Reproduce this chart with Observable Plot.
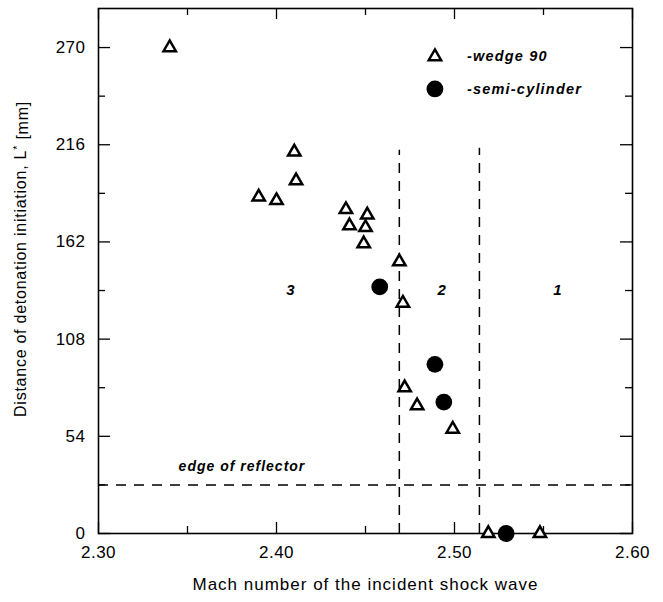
<!DOCTYPE html>
<html><head><meta charset="utf-8">
<script src="https://cdn.jsdelivr.net/npm/d3@7"></script>
<script src="https://cdn.jsdelivr.net/npm/@observablehq/plot@0.6"></script>
<style>
body{margin:0;background:#fff}
svg text{letter-spacing:0.5px}
</style>
</head><body><div id="chart"></div>
<script>
// Data
const wedgeMach = [2.340, 2.410, 2.411, 2.390, 2.400, 2.439, 2.451, 2.441, 2.450, 2.449, 2.469, 2.471, 2.472, 2.479, 2.499, 2.519, 2.548];
const wedgeL    = [270,   212,   196,   187,   185,   180,   177,   171,   170,   161,   151,   128,   81,    71,    58,    0,     0];
const cylMach = [2.458, 2.489, 2.494, 2.529];
const cylL    = [137,   94,    73,    0];

const xMajor = [2.30, 2.40, 2.50, 2.60];
const xMinor = [2.35, 2.45, 2.55];
const yMajor = [0, 54, 108, 162, 216, 270];
const yMinor = [27, 81, 135, 189, 243];

const regionMach = [2.408, 2.493, 2.558];
const regionL = [135, 135, 135];
const regionNames = ["3", "2", "1"];

const boundaryMach = [2.469, 2.514];
const boundaryTop = [213, 214];
const reflectorL = 27;

const legendNames = ["-wedge 90", "-semi-cylinder"];
const legendMarkX = 2.489;
const legendTextX = 2.507;
const legendY = [265, 247];

const annotation = {text: "edge of reflector", x: 2.345, y: 37};

const W = 663, H = 602, mL = 98, mR = 31, mT = 8, mB = 69;
const innerW = W - mL - mR, innerH = H - mT - mB;

const wedge = wedgeMach.map((m, i) => ({m, L: wedgeL[i]}));
const cyl = cylMach.map((m, i) => ({m, L: cylL[i]}));
const bounds = boundaryMach.map((m, i) => ({m, top: boundaryTop[i]}));
const regions = regionMach.map((m, i) => ({m, L: regionL[i], t: regionNames[i]}));

const chart = Plot.plot({
  width: W, height: H,
  marginLeft: mL, marginRight: mR, marginTop: mT, marginBottom: mB,
  style: {fontFamily: "'Liberation Sans', Arial, sans-serif", fontSize: "17px", color: "black", background: "white"},
  x: {domain: [2.30, 2.60]},
  y: {domain: [0, 291.7]},
  marks: [
    // inward ticks
    Plot.ruleX(xMajor, {x: d => d, insetTop: innerH - 11, strokeWidth: 1.3}),
    Plot.ruleX(xMinor, {x: d => d, insetTop: innerH - 7, strokeWidth: 1.3}),
    Plot.ruleX(xMajor, {x: d => d, insetBottom: innerH - 11, strokeWidth: 1.3}),
    Plot.ruleX(xMinor, {x: d => d, insetBottom: innerH - 7, strokeWidth: 1.3}),
    Plot.ruleY(yMajor, {y: d => d, insetRight: innerW - 12, strokeWidth: 1.3}),
    Plot.ruleY(yMinor, {y: d => d, insetRight: innerW - 7, strokeWidth: 1.3}),
    Plot.ruleY(yMajor, {y: d => d, insetLeft: innerW - 12, strokeWidth: 1.3}),
    Plot.ruleY(yMinor, {y: d => d, insetLeft: innerW - 7, strokeWidth: 1.3}),
    // dashed region boundaries
    Plot.ruleX(bounds, {x: "m", y1: 0, y2: "top", strokeWidth: 1.5, strokeDasharray: "10,8"}),
    Plot.ruleY([reflectorL], {y: d => d, strokeWidth: 1.5, strokeDasharray: "10,8"}),
    Plot.frame({strokeWidth: 1.6}),
    Plot.axisX(xMajor, {tickSize: 0, tickPadding: 12, tickFormat: d3.format(".2f"), fontSize: 17,
      label: "Mach number of the incident shock wave", labelAnchor: "center", labelOffset: 56, labelArrow: "none"}),
    Plot.axisY(yMajor, {tickSize: 0, tickPadding: 13, tickFormat: d => String(d), fontSize: 17,
      label: "Distance of detonation initiation, L* [mm]", labelAnchor: "center", labelOffset: 84, labelArrow: "none"}),
    // data
    Plot.dot(wedge, {x: "m", y: "L", symbol: "triangle", r: 4.6, fill: "white", stroke: "black", strokeWidth: 2.5}),
    Plot.dot(cyl, {x: "m", y: "L", symbol: "circle", r: 8.4, fill: "black", stroke: "black", strokeWidth: 0}),
    // legend
    Plot.dot([legendY[0]], {x: legendMarkX, y: d => d, symbol: "triangle", r: 4.6, fill: "white", stroke: "black", strokeWidth: 2.5}),
    Plot.dot([legendY[1]], {x: legendMarkX, y: d => d, symbol: "circle", r: 8.4, fill: "black"}),
    Plot.text(legendNames, {x: legendTextX, y: (d, i) => legendY[i], text: d => d, textAnchor: "start",
      fontSize: 14.5, fontWeight: "bold", fontStyle: "italic"}),
    // annotations
    Plot.text([annotation], {x: "x", y: "y", text: "text", textAnchor: "start", fontSize: 14, fontWeight: "bold", fontStyle: "italic"}),
    Plot.text(regions, {x: "m", y: "L", text: "t", fontSize: 15, fontWeight: "bold", fontStyle: "italic"})
  ]
});

document.getElementById("chart").appendChild(chart);

// letter spacing of italic labels and axis titles, superscript asterisk in the y-axis title
d3.select(chart).selectAll("text").each(function() {
  const t = d3.select(this);
  const s = this.textContent;
  if (s === "-wedge 90" || s === "-semi-cylinder") t.style("letter-spacing", "1.2px");
  if (s === "edge of reflector") t.style("letter-spacing", "1px");
  if (s === "Mach number of the incident shock wave") t.style("letter-spacing", "1px");
  if (s === "Distance of detonation initiation, L* [mm]") {
    t.style("font-size", "16px").style("letter-spacing", "0.75px");
    t.text(null);
    t.append("tspan").attr("dx", 12).text("Distance of detonation initiation, L");
    t.append("tspan").attr("dy", "-0.45em").attr("font-size", "11px").text("*");
    t.append("tspan").attr("dy", "0.45em").text(" [mm]");
  }
});
</script>
</body></html>
